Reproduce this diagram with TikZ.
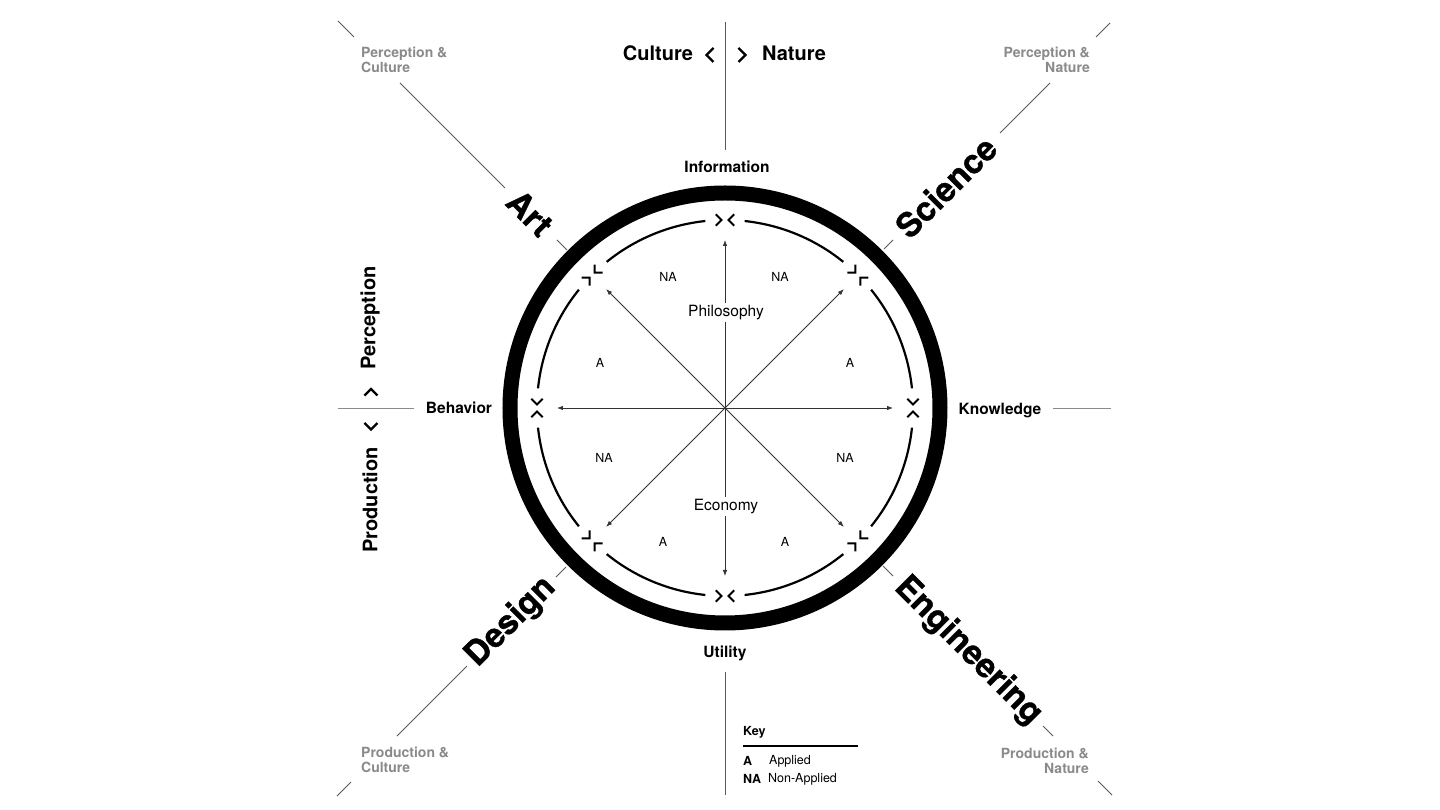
\documentclass[tikz,border=0pt]{standalone}
\usepackage{fontspec}
\setmainfont{TeX Gyre Heros}
\newfontfamily\heavyfont{TeX Gyre Heros}[BoldFeatures={FakeBold=1.0}]
\usetikzlibrary{arrows.meta}
\definecolor{lgray}{HTML}{8A8A8A}
\definecolor{lnc}{HTML}{5A5A5A}
\begin{document}
\begin{tikzpicture}[x=1pt,y=1pt,
  lbl/.style={font=\fontsize{15.5}{18}\selectfont\bfseries, inner sep=1pt},
  big/.style={font=\heavyfont\fontsize{33.5}{36}\selectfont\bfseries, inner sep=0pt},
  side/.style={font=\fontsize{20}{24}\selectfont\bfseries, inner sep=0pt},
  corner/.style={font=\fontsize{14}{15}\selectfont\bfseries, text=lgray, inner sep=0pt},
  axisline/.style={draw=lnc, line width=0.9pt},
  ringline/.style={line width=15pt},
  arcline/.style={line width=2.2pt},
  chev/.style={line width=2pt, line join=miter},
  chevb/.style={line width=2.4pt, line join=miter},
  spoke/.style={line width=0.8pt, draw=black!80, -{Latex[length=6pt,width=4.5pt]}},
  smalllbl/.style={font=\fontsize{12.5}{14}\selectfont, inner sep=1pt},
  midlbl/.style={font=\fontsize{15.5}{18}\selectfont, fill=white, inner sep=2pt},
  keyf/.style={font=\fontsize{12.5}{14}\selectfont, inner sep=0pt, anchor=west}]
\useasboundingbox (-725,-402) rectangle (715,408);
\fill[white] (-725,-402) rectangle (715,408);
\coordinate (c) at (0,0);
% outer ring
\draw[ringline] (c) circle[radius=215];
% inner arcs, markers and spokes
\foreach [evaluate=\a as \s using \a+6, evaluate=\a as \e using \a+39] \a in {0,45,...,315}{
  \draw[arcline] (\s:188) arc[start angle=\s, end angle=\e, radius=188];
  \begin{scope}[rotate=\a]
    \draw[chev] (182.3,9.2) -- (188,3.5) -- (193.7,9.2);
    \draw[chev] (182.3,-9.2) -- (188,-3.5) -- (193.7,-9.2);
  \end{scope}
  \coordinate (s\a) at (\a:168);
  \draw[spoke] (c) -- (s\a);
}
% inner labels
\node[midlbl] (philo) at (1,95.5) {Philosophy};
\node[midlbl] (econ) at (1,-98.5) {Economy};
\node[smalllbl] (na1) at (-57,131) {NA};
\node[smalllbl] (na2) at (55,131) {NA};
\node[smalllbl] (a1) at (-125,45) {A};
\node[smalllbl] (a2) at (125,45) {A};
\node[smalllbl] (na3) at (-121,-50) {NA};
\node[smalllbl] (na4) at (120,-50) {NA};
\node[smalllbl] (a3) at (-62,-134) {A};
\node[smalllbl] (a4) at (60,-134) {A};
% outer labels
\node[lbl] (info) at (2,241) {Information};
\node[lbl] (util) at (0,-245) {Utility};
\node[lbl] (behav) at (-266,0) {Behavior};
\node[lbl] (know) at (275,-2.5) {Knowledge};
% axis lines
\coordinate (t1) at (0,386); \coordinate (t2) at (0,258);
\coordinate (b1) at (0,-264); \coordinate (b2) at (0,-387);
\coordinate (l1) at (-387,0); \coordinate (l2) at (-311,0);
\coordinate (r1) at (328,0); \coordinate (r2) at (386,0);
\draw[axisline] (t1) -- (t2);
\draw[axisline] (b1) -- (b2);
\draw[axisline, draw=lgray] (l1) -- (l2);
\draw[axisline, draw=lgray] (r1) -- (r2);
% diagonal lines
\foreach \p/\q in {-387/-371, -325/-220, -168/-158}{
  \coordinate (tla) at (\p,-\p); \coordinate (tlb) at (\q,-\q);
  \draw[axisline] (tla) -- (tlb);}
\foreach \p/\q in {371/385, 275/325, 159/168}{
  \coordinate (tra) at (\p,\p); \coordinate (trb) at (\q,\q);
  \draw[axisline] (tra) -- (trb);}
\foreach \p/\q in {-159/-169, -258/-328, -374/-388}{
  \coordinate (bla) at (\p,\p); \coordinate (blb) at (\q,\q);
  \draw[axisline] (bla) -- (blb);}
\foreach \p/\q in {158/168, 318/328, 373/387}{
  \coordinate (bra) at (\p,-\p); \coordinate (brb) at (\q,-\q);
  \draw[axisline] (bra) -- (brb);}
% big words
\node[big, rotate=-45] (art) at (-195,195) {Art};
\node[big, rotate=45] (sci) at (221,221) {Science};
\node[big, rotate=45] (des) at (-214,-214) {Design};
\node[big, rotate=-45] (eng) at (243,-243) {Engineering};
% top pair
\node[side] (cult) at (-67,355) {Culture};
\node[side] (nat) at (69,355) {Nature};
\draw[chevb] (-11.5,360) -- (-18.5,353) -- (-11.5,346);
\draw[chevb] (13.5,360) -- (20.5,353) -- (13.5,346);
% left pair
\node[side, rotate=90] (perc) at (-355,90) {Perception};
\node[side, rotate=90] (prod) at (-355,-92) {Production};
\draw[chevb] (-360.5,12.5) -- (-354,19) -- (-347.5,12.5);
\draw[chevb] (-360.5,-15) -- (-354,-21.5) -- (-347.5,-15);
% corner labels
\node[corner, anchor=west, align=left] (pc) at (-364,348.5) {Perception \&\\Culture};
\node[corner, anchor=east, align=right] (pn) at (365,348.5) {Perception \&\\Nature};
\node[corner, anchor=west, align=left] (prc) at (-364,-351.5) {Production \&\\Culture};
\node[corner, anchor=east, align=right] (prn) at (364,-352.5) {Production \&\\Nature};
% key
\node[keyf, font=\fontsize{12.5}{14}\selectfont\bfseries] (key) at (18,-324) {Key};
\coordinate (k1) at (18,-338); \coordinate (k2) at (133,-338);
\draw[line width=1.3pt] (k1) -- (k2);
\node[keyf, font=\fontsize{12.5}{14}\selectfont\bfseries] (ka) at (18,-353) {A};
\node[keyf] (kat) at (44,-353) {Applied};
\node[keyf, font=\fontsize{12.5}{14}\selectfont\bfseries] (kna) at (18,-371) {NA};
\node[keyf] (knat) at (43,-371) {Non-Applied};
\end{tikzpicture}
\end{document}
